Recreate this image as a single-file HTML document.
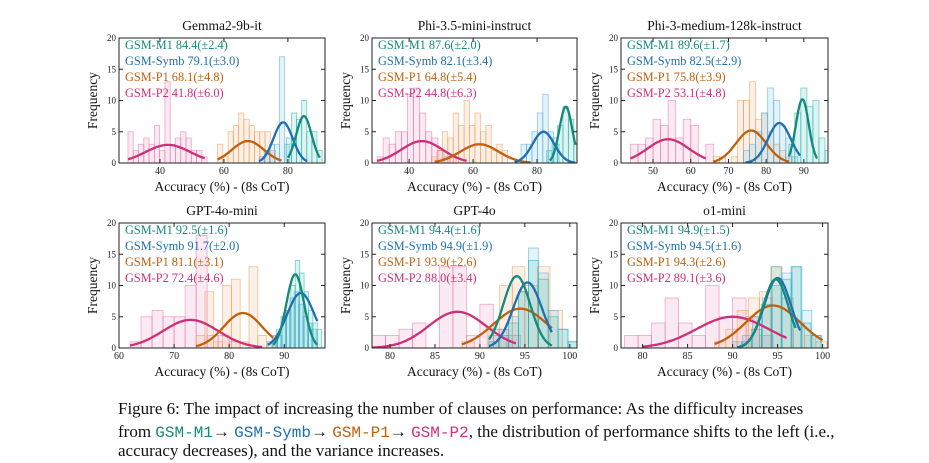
<!DOCTYPE html>
<html><head><meta charset="utf-8">
<style>
body{margin:0;background:#fff;width:929px;height:463px;overflow:hidden;font-family:"Liberation Serif",serif;}
svg{position:absolute;left:0;top:0}
.cap{position:absolute;left:118px;font-size:17px;color:#111;white-space:nowrap;font-family:"Liberation Serif",serif}
.m{font-family:"Liberation Mono",monospace;font-size:16px}
</style></head>
<body>
<svg id="fig" width="929" height="400"></svg>
<div class="cap" style="top:399px">Figure 6: The impact of increasing the number of clauses on performance: As the difficulty increases</div>
<div class="cap" style="top:422px">from <span class="m" style="color:#138a7a">GSM-M1</span>→ <span class="m" style="color:#1f6fb0">GSM-Symb</span>→ <span class="m" style="color:#c0600e">GSM-P1</span>→ <span class="m" style="color:#cf2f78">GSM-P2</span>, the distribution of performance shifts to the left (i.e.,</div>
<div class="cap" style="top:441px">accuracy decreases), and the variance increases.</div>
<script>
const titles=["Gemma2-9b-it","Phi-3.5-mini-instruct","Phi-3-medium-128k-instruct","GPT-4o-mini","GPT-4o","o1-mini"];
const seriesNames=["GSM-M1","GSM-Symb","GSM-P1","GSM-P2"];
const means=[[84.4,79.1,68.1,41.8],[87.6,82.1,64.8,44.8],[89.6,82.5,75.8,53.1],[92.5,91.7,81.1,72.4],[94.4,94.9,93.9,88.0],[94.9,94.5,94.3,89.1]];
const sds=[[2.4,3.0,4.8,6.0],[2.0,3.4,5.4,6.3],[1.7,2.9,3.9,4.8],[1.6,2.0,3.1,4.6],[1.6,1.9,2.6,3.4],[1.5,1.6,2.6,3.6]];
const xDomains=[[27.2,91.6],[28.4,92.5],[41.5,96.4],[60,97.4],[78,100.8],[77.6,100.6]];
const xTicks=[[40,60,80],[40,60,80],[50,60,70,80,90],[60,70,80,90],[80,85,90,95,100],[80,85,90,95,100]];
const yTicks=[0,5,10,15,20];
const binWidths=[[1.6,1.6,1.65,1.65],[1.7,1.7,1.7,1.9],[1.6,1.6,1.6,2],[0.8,0.8,1.6,2],[1.1,1.1,1.4,1.5],[1.1,1.1,1.25,1.5]];
const binStarts=[[79.5,71,58,30],[83,75,47,30],[86,74,66,44],[88,87,74,62],[91,91,88,78],[91,90,88,78]];
const binCounts=[
 [[4,8,7,10,5,5,2],[1,2,3,3,17,3],[3,1,5,6,8,7,6,5,5,5,2],[5,2,3,4,3,6,2,13,3,4,5,4,2,2,1]],
 [[2,4,6,9,7,3],[3,3,5,8,11,5,3],[1,2,5,4,8,6,10,6,8,5,6,2,3,2],[1,4,3,5,5,11,12,8,5,4,2,1,1]],
 [[3,8,12,9,10,4,2],[2,3,5,8,12,10,6,4,1],[1,1,0,1,10,10,13,7,8,5,3,2,1],[3,3,4,7,6,10,4,7,6,0,3]],
 [[1,2,5,6,10,14,12,9,6,4,3],[1,2,3,5,6,8,9,7,5,4,3],[2,9,1,10,11,1,13,2,1],[1,5,6,5,5,10,18,2,2,1]],
 [[1,2,4,9,14,11,5,3,1],[2,3,5,9,16,12,6,3,1],[1,0,3,10,13,10,13,6],[2,2,3,4,0,13,13,2,7,3,2]],
 [[1,3,7,13,11,13,4,2],[1,2,5,8,10,12,13,6,2],[1,3,6,8,9,13,8,4,2,1],[2,2,4,8,4,2,10,5,8,5,2]]];
const curveMeans=[[85,78.5,67.5,42.5],[89,82,62,44],[89.6,83.5,76,54],[92,93,82.5,73],[94.1,95.3,94.5,87.5],[94.8,95,94.5,90]];
const curveSds=[[2.4,3,5,7],[2,3.4,6,6.5],[1.7,3,4,5.5],[1.6,2.5,3.5,5],[1.5,1.6,3,3.2],[1.4,1.5,3,4]];
const curvePeaks=[[7.5,6.5,3.5,2.9],[9,5,3,3.5],[10.2,6.4,5.2,3.8],[11.8,8.8,5.6,4.5],[11.5,10.5,6.3,5.8],[11,11.2,6.8,5]];
const curveRanges=[[[80,90],[71,86],[58,78],[30,54]],[[84,92],[73,92],[48,78],[30,58]],[[86,93.5],[74.5,89],[66,86],[44,64]],[[88,96],[87,96],[74,88],[62,86]],[[91,98],[91,98],[88,98],[78,94]],[[91,97],[90.5,97.5],[88,100],[80,96]]];
const colors=["#138a7a","#1f6fb0","#c0600e","#cf2f78"];
const barColors=["#1bb3a5","#4aa8e0","#e89a55","#e870a8"];
const boxX=[[119,325],[372,577],[621,828]];
const boxY=[[38,163],[223,348]];
const NS="http://www.w3.org/2000/svg";
const svg=document.getElementById('fig');
function mk(tag,attrs,parent){const e=document.createElementNS(NS,tag);for(const k in attrs)e.setAttribute(k,attrs[k]);(parent||svg).appendChild(e);return e;}
for(let p=0;p<6;p++){
  const col=p%3,row=Math.floor(p/3);
  const [x0,x1]=boxX[col],[y0,y1]=boxY[row];
  const [d0,d1]=xDomains[p];
  const sx=v=>x0+(v-d0)/(d1-d0)*(x1-x0);
  const sy=v=>y1-v/20*(y1-y0);
  const g=mk('g',{});
  
  
  const clip=mk('clipPath',{id:'c'+p},g);mk('rect',{x:x0,y:y0,width:x1-x0,height:y1-y0},clip);
  const pg=mk('g',{'clip-path':'url(#c'+p+')'},g);
  for(let s=3;s>=0;s--){
    const cnt=binCounts[p][s],w=binWidths[p][s];
    cnt.forEach((c,i)=>{
      const a=binStarts[p][s]+i*w;
      const r=mk('rect',{x:sx(a),y:sy(c),width:sx(a+w)-sx(a),height:sy(0)-sy(c),fill:barColors[s],'fill-opacity':0.15,stroke:barColors[s],'stroke-opacity':0.6,'stroke-width':0.8},pg);
      
      
    });
  }
  for(let s=3;s>=0;s--){
    const [a,b]=curveRanges[p][s];let d='';
    for(let k=0;k<=60;k++){const v=a+(b-a)*k/60;const y=curvePeaks[p][s]*Math.exp(-0.5*((v-curveMeans[p][s])/curveSds[p][s])**2);d+=(k?'L':'M')+sx(v).toFixed(1)+','+sy(y).toFixed(1);}
    const c=mk('path',{d:d,fill:'none',stroke:colors[s],'stroke-width':2.3},pg);
    
    
  }
  const bx=mk('rect',{x:x0,y:y0,width:x1-x0,height:y1-y0,fill:'none',stroke:'#222','stroke-width':1},g);
  
  
  yTicks.forEach(t=>{
    mk('line',{x1:x0,x2:x0+4,y1:sy(t),y2:sy(t),stroke:'#222'},g);mk('line',{x1:x1,x2:x1-4,y1:sy(t),y2:sy(t),stroke:'#222'},g);
    const tx=mk('text',{x:x0-3,y:sy(t)+3,'text-anchor':'end','font-size':9,fill:'#222'},g);tx.textContent=t;
    
    
  });
  xTicks[p].forEach(t=>{
    mk('line',{x1:sx(t),x2:sx(t),y1:y1,y2:y1-4,stroke:'#222'},g);mk('line',{x1:sx(t),x2:sx(t),y1:y0,y2:y0+4,stroke:'#222'},g);
    const tx=mk('text',{x:sx(t),y:y1+11,'text-anchor':'middle','font-size':10,fill:'#222'},g);tx.textContent=t;
    
    
  });
  const tt=mk('text',{x:(x0+x1)/2,y:y0-8,'text-anchor':'middle','font-size':13.5,fill:'#111'},g);tt.textContent=titles[p];
  
  
  const xl=mk('text',{x:(x0+x1)/2,y:y1+28,'text-anchor':'middle','font-size':13.5,fill:'#111'},g);xl.textContent='Accuracy (%) - (8s CoT)';
  
  
  const yl=mk('text',{x:0,y:0,transform:`translate(${x0-22},${(y0+y1)/2}) rotate(-90)`,'text-anchor':'middle','font-size':13.5,fill:'#111'},g);yl.textContent='Frequency';
  
  
  for(let s=0;s<4;s++){
    const lt=mk('text',{x:x0+6,y:y0+11+s*16,'font-size':12.3,fill:colors[s]},g);
    lt.textContent=seriesNames[s]+' '+means[p][s].toFixed(1)+'(±'+sds[p][s].toFixed(1)+')';
    
    
  }
}
</script>
</body></html>
